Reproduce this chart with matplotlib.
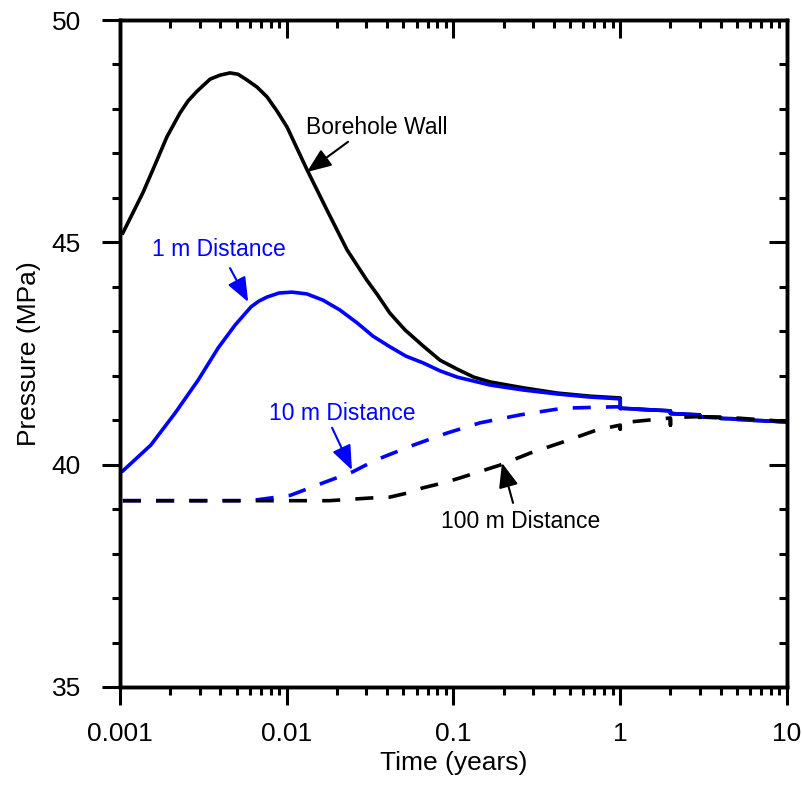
import numpy as np
import matplotlib
matplotlib.use('Agg')
import matplotlib.pyplot as plt
from matplotlib.ticker import MultipleLocator, FuncFormatter

plt.rcParams['font.family'] = ['Liberation Sans', 'DejaVu Sans']

# borehole wall (solid black)
t_wall = [0.00104, 0.00137, 0.00162, 0.00191, 0.00229, 0.00256, 0.0029, 0.00347, 0.00398,
          0.00457, 0.0051, 0.00578, 0.00664, 0.00762, 0.00875, 0.01005, 0.0115, 0.01324,
          0.0174, 0.0230, 0.0302, 0.0347, 0.0415, 0.0512, 0.0657, 0.083, 0.105, 0.132, 0.166,
          0.26, 0.42, 0.66,
          1.0, 1.0, 2.0, 2.0, 3.0, 3.0, 4.0, 4.0, 5.0, 5.0, 6.0, 6.0, 7.0, 8.0, 9.0, 10.0]
p_wall = [45.21, 46.11, 46.74, 47.37, 47.91, 48.18, 48.40, 48.67, 48.76,
          48.81, 48.78, 48.65, 48.49, 48.27, 47.95, 47.59, 47.12, 46.63,
          45.73, 44.83, 44.15, 43.84, 43.41, 43.03, 42.67, 42.35, 42.15, 41.97, 41.86,
          41.73, 41.61, 41.54,
          41.50, 41.27, 41.21, 41.15, 41.12, 41.07, 41.06, 41.04, 41.03, 41.02, 41.01, 41.00,
          40.99, 40.98, 40.97, 40.96]

# 1 m distance (solid blue)
t_1m = [0.00104, 0.00153, 0.00214, 0.00294, 0.00387, 0.0049, 0.00611, 0.00682, 0.00762, 0.00899,
        0.01077, 0.0132, 0.01649, 0.0208, 0.0264, 0.0329, 0.0416, 0.0519, 0.0656, 0.083,
        0.105, 0.166, 0.261, 0.418, 0.659,
        1.0, 1.0, 2.0, 2.0, 3.0, 3.0, 4.0, 4.0, 5.0, 5.0, 6.0, 6.0, 7.0, 8.0, 9.0, 10.0]
p_1m = [39.86, 40.44, 41.16, 41.90, 42.62, 43.14, 43.55, 43.68, 43.77, 43.86,
        43.88, 43.84, 43.70, 43.48, 43.19, 42.89, 42.65, 42.44, 42.29, 42.11,
        41.97, 41.79, 41.68, 41.59, 41.52,
        41.48, 41.27, 41.21, 41.15, 41.12, 41.07, 41.06, 41.04, 41.03, 41.02, 41.01, 41.00,
        40.99, 40.98, 40.97, 40.96]

# 10 m distance (dashed blue)
t_10m = [0.00104, 0.0052, 0.00664, 0.0105, 0.0165, 0.0249, 0.0316, 0.0378, 0.0575, 0.0914,
         0.144, 0.251, 0.454, 0.905, 1.0, 1.0, 2.0, 2.0, 3.0, 3.0, 4.0, 4.0, 5.0, 5.0,
         6.0, 6.0, 7.0, 8.0, 9.0, 10.0]
p_10m = [39.19, 39.19, 39.21, 39.31, 39.59, 39.84, 40.04, 40.17, 40.44, 40.71,
         40.94, 41.12, 41.27, 41.30, 41.30, 41.26, 41.21, 41.15, 41.12, 41.07, 41.06, 41.04,
         41.03, 41.02, 41.01, 41.00, 40.99, 40.98, 40.97, 40.96]

# 100 m distance (dashed black)
t_100m = [0.00104, 0.018, 0.0316, 0.0415, 0.0526, 0.0657, 0.087, 0.109, 0.190, 0.288, 0.454,
          0.724, 1.0, 1.0, 1.0, 2.0, 2.0, 2.0, 3.0, 3.0, 3.0, 4.5, 7.0, 10.0]
p_100m = [39.19, 39.19, 39.25, 39.27, 39.36, 39.48, 39.59, 39.70, 39.99, 40.26, 40.51,
          40.78, 40.89, 40.80, 40.94, 41.05, 40.89, 41.06, 41.08, 40.92, 41.08, 41.06,
          41.01, 40.97]

fig = plt.figure(figsize=(8.03, 7.86), dpi=100)
ax = fig.add_axes([120/803, 1 - 687/786, 667/803, 667/786])

lw = 2.6
dash = (0, (5, 4.2))
ax.plot(t_wall, p_wall, color='black', lw=lw)
ax.plot(t_1m, p_1m, color='#0000ff', lw=lw)
ax.plot(t_10m, p_10m, color='#0000ff', lw=lw, linestyle=dash)
ax.plot(t_100m, p_100m, color='black', lw=lw, linestyle=dash)

ax.set_xscale('log')
ax.set_xlim(0.001, 10)
ax.set_ylim(35, 50)
ax.yaxis.set_major_locator(MultipleLocator(5))
ax.yaxis.set_minor_locator(MultipleLocator(1))
ax.xaxis.set_major_formatter(FuncFormatter(lambda v, p: '%g' % v))
ax.xaxis.set_minor_formatter(FuncFormatter(lambda v, p: ''))

ax.tick_params(which='both', direction='out', width=2.2, labelsize=19, top=False, right=False)
ax.tick_params(which='major', length=13)
ax.tick_params(which='minor', length=6)
ax.tick_params(axis='x', pad=12)
ax.tick_params(axis='y', pad=15)
for s in ax.spines.values():
    s.set_linewidth(2.4)

# inward ticks on top and right
axt = ax.twiny()
axt.set_xscale('log')
axt.set_xlim(0.001, 10)
axt.tick_params(which='both', direction='in', width=2.2, top=True, bottom=False, labeltop=False)
axt.tick_params(which='major', length=13)
axt.tick_params(which='minor', length=6)
axr = ax.twinx()
axr.set_ylim(35, 50)
axr.yaxis.set_major_locator(MultipleLocator(5))
axr.yaxis.set_minor_locator(MultipleLocator(1))
axr.tick_params(which='both', direction='in', width=2.2, right=True, left=False, labelright=False)
axr.tick_params(which='major', length=13)
axr.tick_params(which='minor', length=6)
for a in (axt, axr):
    for s in a.spines.values():
        s.set_linewidth(2.4)

ax.set_xlabel('Time (years)', fontsize=19, labelpad=4)
ax.set_ylabel('Pressure (MPa)', fontsize=19, labelpad=8)

arrow = dict(arrowstyle='-|>,head_length=1.0,head_width=0.4', mutation_scale=15,
             lw=1.5, shrinkA=0, shrinkB=0)

ax.text(0.0347, 47.59, 'Borehole Wall', fontsize=16.5, ha='center', va='center')
ax.annotate('', xy=(0.0132, 46.58), xytext=(0.0233, 47.26),
            arrowprops=dict(arrow, color='black'))

ax.text(0.00393, 44.83, '1 m Distance', fontsize=16.5, ha='center', va='center', color='#0000ff')
ax.annotate('', xy=(0.00587, 43.66), xytext=(0.00457, 44.42),
            arrowprops=dict(arrow, color='#0000ff'))

ax.text(0.0214, 41.16, '10 m Distance', fontsize=16.5, ha='center', va='center', color='#0000ff')
ax.annotate('', xy=(0.0246, 39.88), xytext=(0.0187, 40.83),
            arrowprops=dict(arrow, color='#0000ff'))

ax.text(0.254, 38.73, '100 m Distance', fontsize=16.5, ha='center', va='center')
ax.annotate('', xy=(0.1954, 40.04), xytext=(0.2275, 39.14),
            arrowprops=dict(arrow, color='black'))

fig.savefig('out.png', dpi=100)
